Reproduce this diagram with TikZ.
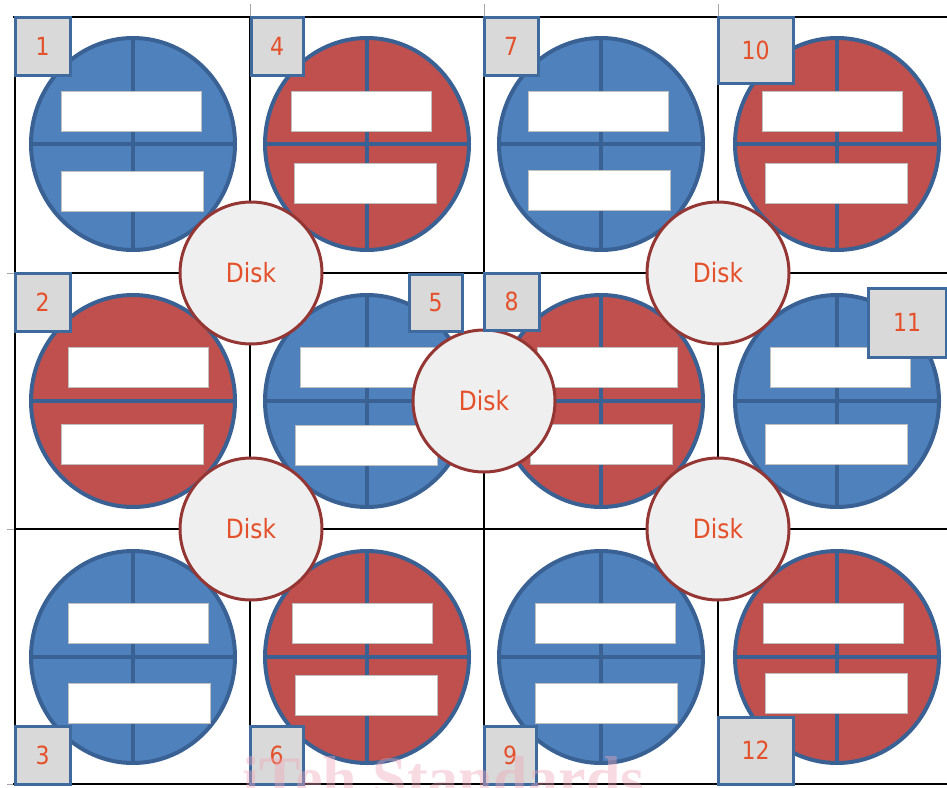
\documentclass[tikz,border=0pt]{standalone}
\usepackage{fontspec}
\newfontfamily\lblfont{DejaVu Sans}[FakeStretch=0.88]
\newfontfamily\wmfont{Liberation Serif}
\usetikzlibrary{shapes.geometric}
\definecolor{cblue}{HTML}{4F81BD}
\definecolor{cred}{HTML}{C0504D}
\definecolor{edgeblue}{HTML}{3A6194}
\definecolor{slotgray}{HTML}{BFBFBF}
\definecolor{lblfill}{HTML}{D9D9D9}
\definecolor{lbledge}{HTML}{3E6A9E}
\definecolor{txtred}{HTML}{E4502A}
\definecolor{diskfill}{HTML}{EFEFEF}
\definecolor{diskedge}{HTML}{943634}
\definecolor{wmpink}{HTML}{EFA7B7}
\tikzset{
  unit/.style={ellipse, inner sep=0pt, minimum width=204pt, minimum height=212pt,
    draw=edgeblue, line width=4pt, fill=#1},
  divider/.style={draw=edgeblue, line width=4pt},
  slot/.style={rectangle, inner sep=0pt, fill=white, draw=slotgray, line width=1.3pt,
    minimum height=40pt, anchor=north west},
  lbl/.style={rectangle, inner sep=0pt, fill=lblfill, draw=lbledge, line width=3pt,
    text=txtred, font=\lblfont\fontsize{25}{29}\selectfont},
  disk/.style={circle, inner sep=0pt, minimum size=142pt, fill=diskfill, draw=diskedge,
    line width=3pt, text=txtred, font=\lblfont\fontsize{26.5}{31}\selectfont},
  frame/.style={draw=black, line width=2.6pt},
  gridln/.style={draw=black, line width=1.4pt},
  tick/.style={draw=gray!70, line width=0.8pt}
}
% #1 name, #2 cx, #3 cy, #4 colour, #5/#6 top slot corner, #7/#8 bottom slot corner, #9 vertical divider
\newcommand\drawunit[9]{%
  \node[unit=#4, path picture={%
      \draw[divider] (path picture bounding box.west) -- (path picture bounding box.east);
      \ifnum#9=1 \draw[divider] (path picture bounding box.north) -- (path picture bounding box.south);\fi
    }] (#1) at (#2,-#3) {};
  \node[slot, minimum width=140pt] (#1t) at (#5,-#6) {};
  \node[slot, minimum width=142pt] (#1b) at (#7,-#8) {};
}
\begin{document}
\begin{tikzpicture}[x=1pt,y=1pt]
\useasboundingbox (0,0) rectangle (947,-787);
\clip (0,0) rectangle (947,-787);
\fill[white] (0,0) rectangle (947,-787);
% grid
\foreach \gx in {250,484,718} {
  \draw[gridln] (\gx,-17) -- (\gx,-784);
  \draw[tick] (\gx,-4) -- (\gx,-17);
}
\foreach \gy in {273,529} {
  \draw[gridln] (15,-\gy) -- (947,-\gy);
  \draw[tick] (7,-\gy) -- (15,-\gy);
}
\draw[tick] (7,-784) -- (15,-784);
\draw[frame] (13,-17) -- (947,-17);
\draw[frame] (15,-16) -- (15,-786);
\draw[frame] (13,-784) -- (947,-784);
% units
\drawunit{u1}{133}{144}{cblue}{61}{91}{61}{171}{1}
\drawunit{u2}{133}{401}{cred}{68}{347}{61}{424}{0}
\drawunit{u3}{133}{657}{cblue}{68}{603}{68}{683}{1}
\drawunit{u4}{367}{144}{cred}{291}{91}{294}{163}{1}
\drawunit{u5}{367}{401}{cblue}{300}{347}{295}{425}{1}
\drawunit{u6}{367}{657}{cred}{292}{603}{295}{675}{1}
\drawunit{u7}{601}{144}{cblue}{528}{91}{528}{170}{1}
\drawunit{u8}{601}{401}{cred}{537}{347}{530}{424}{1}
\drawunit{u9}{601}{657}{cblue}{535}{603}{535}{683}{1}
\drawunit{u10}{837}{144}{cred}{762}{91}{765}{163}{1}
\drawunit{u11}{837}{401}{cblue}{770}{347}{765}{424}{1}
\drawunit{u12}{837}{657}{cred}{763}{603}{765}{673}{1}
% disks
\node[disk] (d1) at (251,-273) {Disk};
\node[disk] (d2) at (718,-273) {Disk};
\node[disk] (d3) at (484,-401) {Disk};
\node[disk] (d4) at (251,-529) {Disk};
\node[disk] (d5) at (718,-529) {Disk};
% labels
\node[lbl, minimum width=55pt, minimum height=58pt] (l1) at (42.5,-46) {1};
\node[lbl, minimum width=55pt, minimum height=58pt] (l2) at (42.5,-302) {2};
\node[lbl, minimum width=55pt, minimum height=58pt] (l3) at (42.5,-755) {3};
\node[lbl, minimum width=52pt, minimum height=58pt] (l4) at (277,-46) {4};
\node[lbl, minimum width=53pt, minimum height=57pt] (l5) at (435.5,-302.5) {5};
\node[lbl, minimum width=53pt, minimum height=58pt] (l6) at (276.5,-755) {6};
\node[lbl, minimum width=54pt, minimum height=58pt] (l7) at (511,-46) {7};
\node[lbl, minimum width=55pt, minimum height=57pt] (l8) at (511.5,-301.5) {8};
\node[lbl, minimum width=52pt, minimum height=58pt] (l9) at (510,-755) {9};
\node[lbl, minimum width=75pt, minimum height=66pt] (l10) at (755.5,-50) {10};
\node[lbl, minimum width=78pt, minimum height=69pt] (l11) at (907,-322.5) {11};
\node[lbl, minimum width=75pt, minimum height=67pt] (l12) at (755.5,-750.5) {12};
% watermark
\node[anchor=base west, inner sep=0pt, text=wmpink, opacity=0.4,
  font=\wmfont\bfseries\fontsize{62}{62}\selectfont] (wm) at (242,-799) {iTeh Standards};
\end{tikzpicture}
\end{document}
